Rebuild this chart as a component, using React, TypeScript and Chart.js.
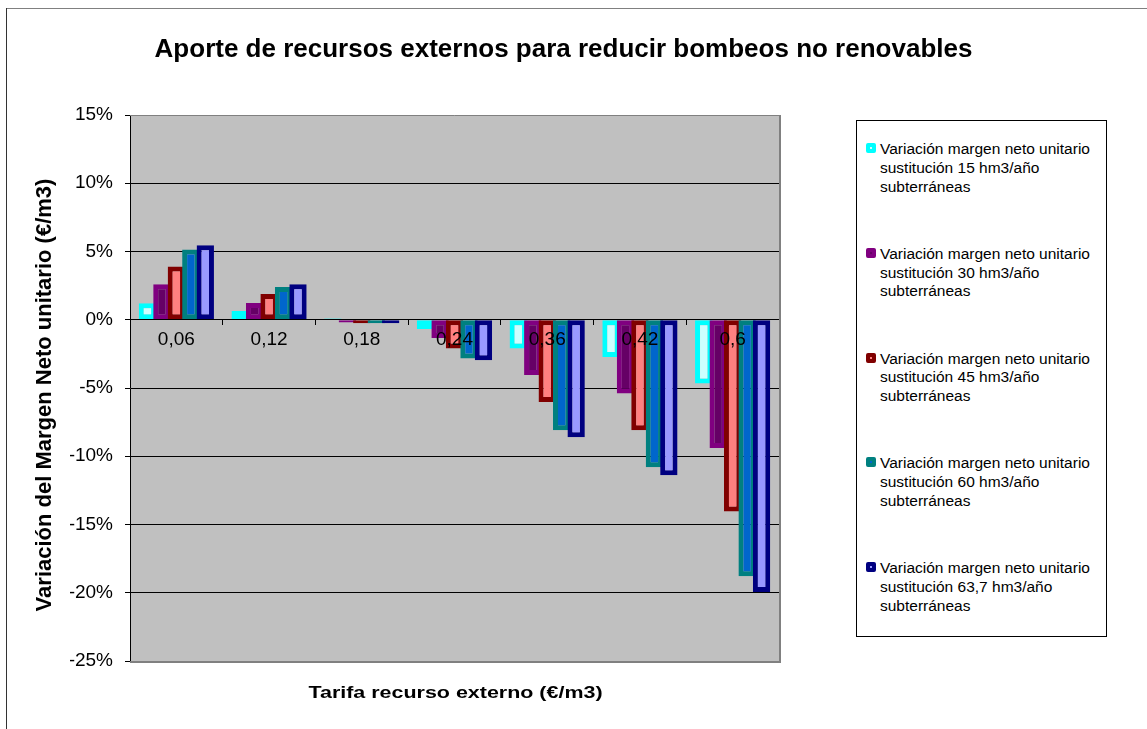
import React, { useEffect, useRef } from "react";
import { Chart, registerables } from "chart.js";

Chart.register(...registerables);

const titleText = "Aporte de recursos externos para reducir bombeos no renovables";
const xTitleText = "Tarifa recurso externo (€/m3)";
const yTitleText = "Variación del Margen Neto unitario (€/m3)";

const categories = ["0,06", "0,12", "0,18", "0,24", "0,36", "0,42", "0,6"];

const seriesNames = [
  "Variación margen neto unitario sustitución 15 hm3/año subterráneas",
  "Variación margen neto unitario sustitución 30 hm3/año subterráneas",
  "Variación margen neto unitario sustitución 45 hm3/año subterráneas",
  "Variación margen neto unitario sustitución 60 hm3/año subterráneas",
  "Variación margen neto unitario sustitución 63,7 hm3/año subterráneas",
];

const sust15 = [1.2, 0.65, 0.1, -0.67, -2.1, -2.72, -4.67];
const sust30 = [2.6, 1.23, -0.2, -1.33, -4.05, -5.4, -9.4];
const sust45 = [3.9, 1.88, -0.25, -2.1, -6.03, -8.1, -14.05];
const sust60 = [5.15, 2.4, -0.25, -2.84, -8.1, -10.8, -18.8];
const sust637 = [5.45, 2.6, -0.25, -2.97, -8.6, -11.4, -19.95];

const seriesValues = [sust15, sust30, sust45, sust60, sust637];

const fillColors = ["#CCFFFF", "#660066", "#FF8080", "#0066CC", "#9999FF"];
const borderColors = ["#00FFFF", "#800080", "#800000", "#008080", "#000080"];

const yMin = -25;
const yMax = 15;
const yStep = 5;

const FONT = '"Liberation Sans", Arial, sans-serif';

export default function App() {
  const canvasRef = useRef<HTMLCanvasElement | null>(null);

  useEffect(() => {
    const canvas = canvasRef.current;
    if (!canvas) return;

    const decorPlugin = {
      id: "decor",
      beforeDraw(chart: any) {
        const { ctx, chartArea } = chart;
        ctx.save();
        ctx.fillStyle = "#FFFFFF";
        ctx.fillRect(0, 0, chart.width, chart.height);
        ctx.fillStyle = "#C0C0C0";
        ctx.fillRect(chartArea.left, chartArea.top, chartArea.right - chartArea.left, chartArea.bottom - chartArea.top);
        ctx.restore();
      },
      beforeDatasetsDraw(chart: any) {
        const metas = chart.getSortedVisibleDatasetMetas();
        for (const m of metas) chart._drawDataset(m);
        return false;
      },
      afterDraw(chart: any) {
        const { ctx, chartArea } = chart;
        ctx.save();
        ctx.strokeStyle = "#808080";
        ctx.lineWidth = 1;
        ctx.beginPath();
        ctx.moveTo(chartArea.left, chartArea.top + 0.5);
        ctx.lineTo(chartArea.right, chartArea.top + 0.5);
        ctx.stroke();
        ctx.lineWidth = 2;
        ctx.beginPath();
        ctx.moveTo(chartArea.right + 1, chartArea.top);
        ctx.lineTo(chartArea.right + 1, chartArea.bottom + 2);
        ctx.moveTo(chartArea.left, chartArea.bottom + 1);
        ctx.lineTo(chartArea.right + 2, chartArea.bottom + 1);
        ctx.stroke();

        ctx.fillStyle = "#000000";
        ctx.font = `bold 26px ${FONT}`;
        ctx.textAlign = "center";
        ctx.textBaseline = "alphabetic";
        ctx.fillText(titleText, 563.5, 56.7);

        ctx.save();
        ctx.translate(455.5, 697.5);
        ctx.scale(1.3, 1);
        ctx.font = `bold 16.5px ${FONT}`;
        ctx.fillText(xTitleText, 0, 0);
        ctx.restore();

        ctx.save();
        ctx.translate(51, 395);
        ctx.rotate(-Math.PI / 2);
        ctx.font = `bold 22px ${FONT}`;
        ctx.fillText(yTitleText, 0, 0);
        ctx.restore();

        ctx.restore();
      },
    };

    const chart = new Chart(canvas, {
      type: "bar",
      data: {
        labels: categories,
        datasets: seriesValues.map((vals, i) => ({
          label: seriesNames[i],
          data: vals,
          backgroundColor: fillColors[i],
          borderColor: borderColors[i],
          borderWidth: 5,
          borderSkipped: false,
          categoryPercentage: 0.78,
          barPercentage: 1.2,
        })),
      },
      options: {
        animation: false,
        responsive: false,
        devicePixelRatio: 1,
        layout: { padding: { left: 70, top: 115, right: 368, bottom: 68 } },
        plugins: {
          legend: { display: false },
          title: { display: false },
          tooltip: { enabled: false },
        },
        scales: {
          x: {
            type: "category",
            position: { y: 0 } as any,
            offset: true,
            grid: {
              offset: true,
              drawOnChartArea: false,
              drawTicks: true,
              tickLength: 5,
              tickColor: "#000000",
              color: "#000000",
              z: 1,
            },
            border: { display: true, color: "#000000", width: 1, z: 1 },
            ticks: {
              color: "#000000",
              font: { family: FONT, size: 19 },
              padding: 4,
              maxRotation: 0,
              autoSkip: false,
              z: 2,
            },
          },
          y: {
            min: yMin,
            max: yMax,
            afterFit: (scale: any) => {
              scale.width = 60;
            },
            grid: {
              color: (ctx: any) =>
                ctx.tick && (ctx.tick.value === yMax || ctx.tick.value === yMin) ? "rgba(0,0,0,0)" : "#000000",
              tickColor: "#000000",
              tickLength: 5,
              lineWidth: 1,
            },
            border: { display: true, color: "#000000", width: 1 },
            ticks: {
              stepSize: yStep,
              color: "#000000",
              font: { family: FONT, size: 19 },
              padding: 12,
              callback: (v: any) => `${v}%`,
            },
          },
        },
      } as any,
      plugins: [decorPlugin],
    });

    return () => chart.destroy();
  }, []);

  const itemTop = (i: number) => 19.2 + i * 104.75;

  return (
    <div
      style={{
        position: "absolute",
        left: 0,
        top: 0,
        width: 1147,
        height: 729,
        background: "#FFFFFF",
        overflow: "hidden",
      }}
    >
      <canvas ref={canvasRef} width={1147} height={729} style={{ position: "absolute", left: 0, top: 0 }} />
      <div style={{ position: "absolute", left: 6, top: 8, width: 1141, height: 1, background: "#808080" }} />
      <div style={{ position: "absolute", left: 6, top: 8, width: 1, height: 721, background: "#333333" }} />
      <div
        style={{
          position: "absolute",
          left: 856,
          top: 120,
          width: 251,
          height: 517,
          boxSizing: "border-box",
          border: "1px solid #000000",
          background: "#FFFFFF",
          fontFamily: FONT,
          fontSize: "15.5px",
          lineHeight: "18.7px",
          color: "#000000",
        }}
      >
        {seriesNames.map((name, i) => (
          <React.Fragment key={i}>
            <div
              style={{
                position: "absolute",
                left: 9,
                top: itemTop(i) + 3,
                width: 10,
                height: 10,
                boxSizing: "border-box",
                borderRadius: 2,
                border: `4px solid ${borderColors[i]}`,
                background: fillColors[i],
              }}
            />
            <div
              style={{
                position: "absolute",
                left: 23,
                top: itemTop(i),
                width: 222,
                whiteSpace: "normal",
              }}
            >
              {name}
            </div>
          </React.Fragment>
        ))}
      </div>
    </div>
  );
}
